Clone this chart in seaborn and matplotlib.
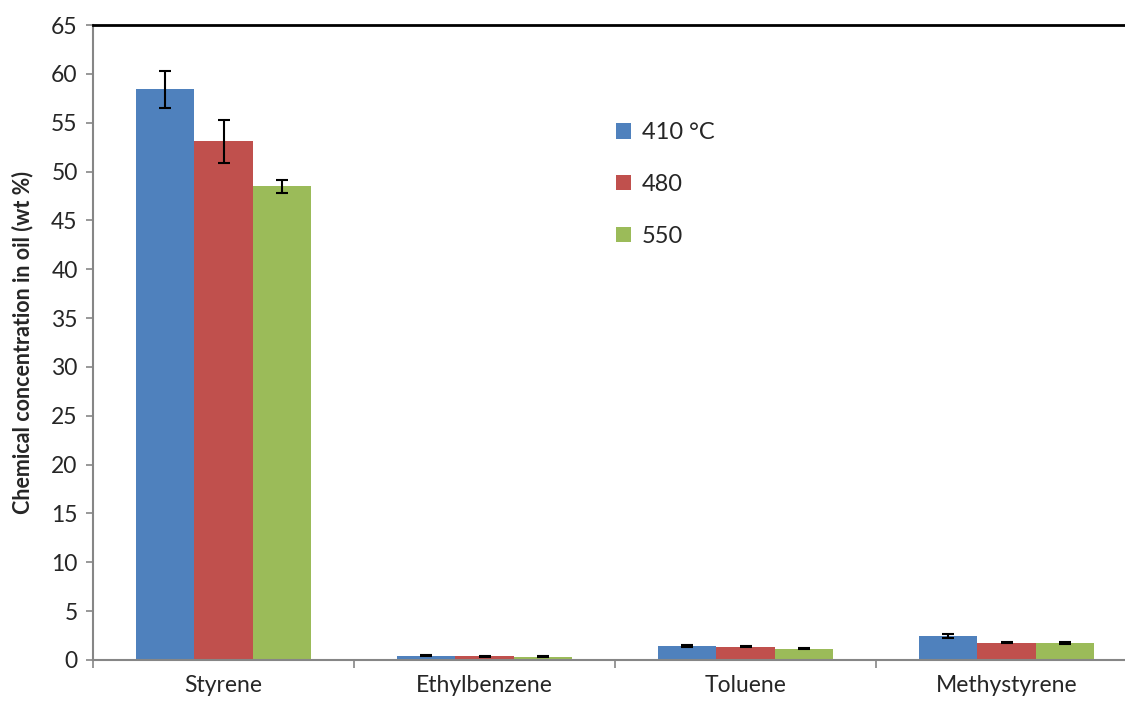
import matplotlib
matplotlib.use("Agg")
import matplotlib.pyplot as plt
import numpy as np
import pandas as pd
import seaborn as sns

# Chemical composition of the oil at three pyrolysis temperatures
compounds = ["Styrene", "Ethylbenzene", "Toluene", "Methystyrene"]
temperatures = ["410 °C", "480", "550"]
mean_410 = [58.4, 0.45, 1.42, 2.45]
mean_480 = [53.1, 0.40, 1.35, 1.78]
mean_550 = [48.5, 0.33, 1.15, 1.72]
err_410 = [1.9, 0.08, 0.08, 0.22]
err_480 = [2.2, 0.06, 0.05, 0.05]
err_550 = [0.65, 0.05, 0.05, 0.10]

colors = ["#4F81BD", "#C0504D", "#9BBB59"]

means = [mean_410, mean_480, mean_550]
errs = [err_410, err_480, err_550]
df = pd.DataFrame({
    "compound": [c for _ in temperatures for c in compounds],
    "temperature": [t for t in temperatures for _ in compounds],
    "value": [v for m in means for v in m],
    "err": [e for es in errs for e in es],
})

sns.set_style("white")
plt.rcParams["font.family"] = ["Lato", "DejaVu Sans"]

fig = plt.figure(figsize=(11.25, 7.07), dpi=100)
ax = fig.add_axes([93 / 1125, 1 - 660 / 707, 1044 / 1125, (660 - 25) / 707])

sns.barplot(data=df, x="compound", y="value", hue="temperature",
            order=compounds, hue_order=temperatures, palette=colors,
            width=0.67, errorbar=None, saturation=1, linewidth=0, ax=ax)

# Error bars placed on the centre of each drawn bar
for i, t in enumerate(temperatures):
    cont = ax.containers[i]
    xs = [p.get_x() + p.get_width() / 2 for p in cont.patches]
    ax.errorbar(xs, means[i], yerr=errs[i], fmt="none", ecolor="black",
                elinewidth=1.5, capsize=4.5, capthick=1.5, zorder=5)

ax.set_xlim(-0.5, 3.5)
ax.set_ylim(0, 65)
ax.set_yticks(np.arange(0, 66, 5))
ax.tick_params(axis="y", labelsize=16.5, direction="out", length=5,
               color="#868686", width=1.2, left=True, pad=6)

# Category boundaries as major ticks, names as minor ticks
ax.set_xticks([-0.5, 0.5, 1.5, 2.5, 3.5])
ax.set_xticklabels([])
ax.set_xticks(range(len(compounds)), minor=True)
ax.set_xticklabels(compounds, minor=True)
ax.tick_params(axis="x", which="major", direction="out", length=6,
               color="#868686", width=1.2, bottom=True)
ax.tick_params(axis="x", which="minor", length=0, labelsize=16.5, pad=11)
ax.set_xlabel("")
ax.set_ylabel("Chemical concentration in oil (wt %)", fontsize=15.5,
              fontweight="bold", labelpad=13)

for side in ["left", "bottom"]:
    ax.spines[side].set_color("#868686")
    ax.spines[side].set_linewidth(1.5)
ax.spines["top"].set_color("black")
ax.spines["top"].set_linewidth(2)
ax.spines["right"].set_visible(False)

handles, labels = ax.get_legend_handles_labels()
ax.legend(handles, labels, loc="upper left", bbox_to_anchor=(0.481, 0.88),
          frameon=False, fontsize=17, handlelength=0.62, handleheight=0.62,
          handletextpad=0.45, labelspacing=1.3)

fig.savefig("out.png", dpi=100)
